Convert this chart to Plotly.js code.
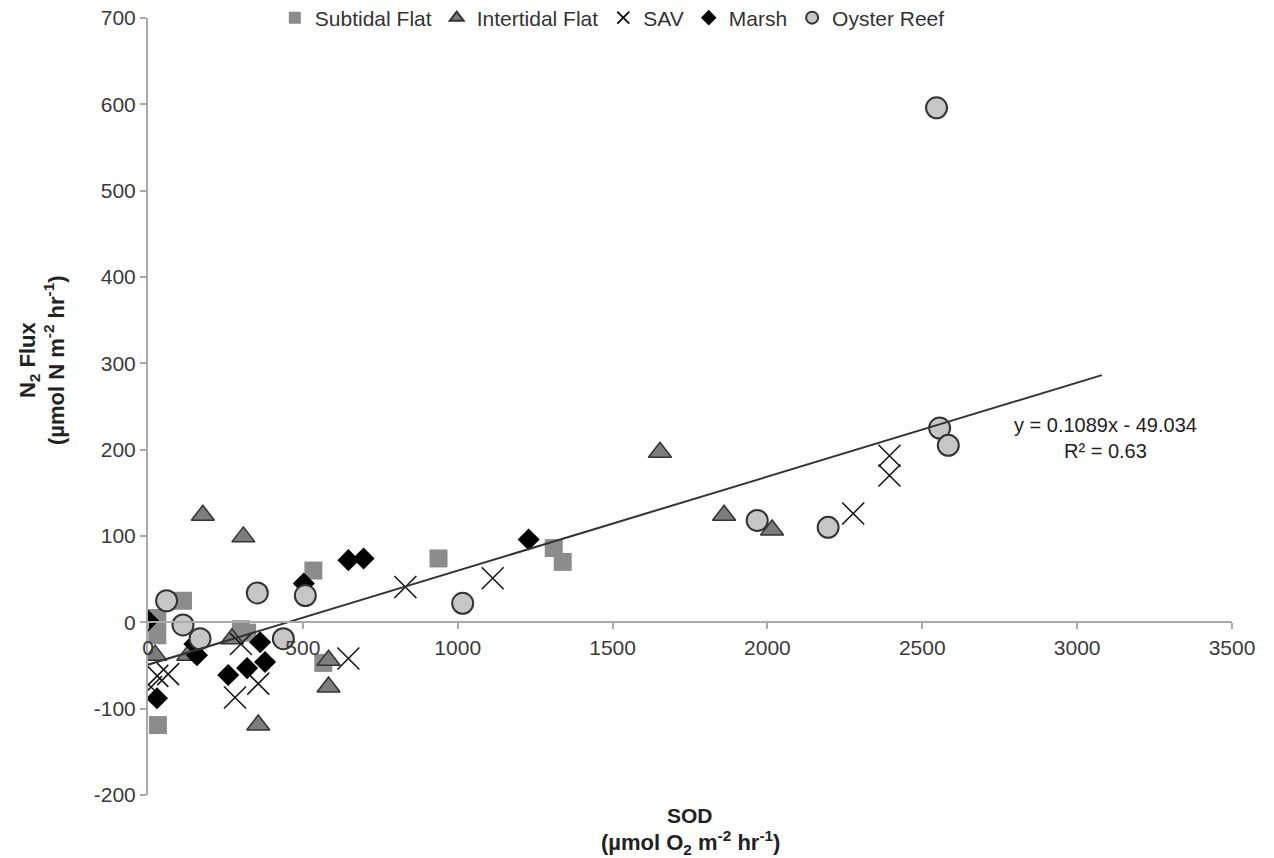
<!DOCTYPE html>
<html><head><meta charset="utf-8">
<script src="https://cdn.plot.ly/plotly-3.0.1.min.js"></script>
<style>html,body{margin:0;padding:0;background:#fff}#chart{width:1274px;height:858px}</style>
</head><body><div id="chart"></div>
<script>
const subtidalX = [30, 30, 113, 32, 300, 320, 566, 534, 938, 1310, 1339];
const subtidalY = [5, -15, 25, -119, -8, -12, -47, 60, 74, 86, 70];
const intertidalX = [23, 130, 177, 308, 271, 356, 583, 583, 1653, 1860, 2015];
const intertidalY = [-38, -38, 124, 99, -19, -119, -44, -75, 197, 124, 107];
const savX = [10, 30, 65, 281, 356, 300, 647, 831, 1113, 2277, 2394, 2394];
const savY = [-75, -62, -60, -87, -71, -25, -42, 41, 51, 126, 193, 170];
const marshX = [0, 150, 158, 29, 259, 320, 378, 362, 503, 647, 696, 1229];
const marshY = [2, -25, -38, -88, -61, -53, -46, -23, 45, 72, 74, 96];
const oysterX = [60, 113, 168, 353, 437, 508, 1016, 1967, 2196, 2556, 2584, 2546];
const oysterY = [25, -3, -19, 34, -19, 31, 22, 118, 110, 225, 205, 596];
const xTickVals = [0, 500, 1000, 1500, 2000, 2500, 3000, 3500];
const xTickText = ['0', '500', '1000', '1500', '2000', '2500', '3000', '3500'];
const yTickVals = [-200, -100, 0, 100, 200, 300, 400, 500, 600, 700];
const yTickText = ['-200', '-100', '0', '100', '200', '300', '400', '500', '600', '700'];
const trendSlope = 0.1089, trendIntercept = -49.034;
const trendX = [0, 3080];
const trendY = trendX.map(x => trendSlope * x + trendIntercept);

const FONT = "Liberation Sans, Arial, sans-serif";
const traces = [
  {type:'scatter', mode:'markers', name:'Subtidal Flat', x: subtidalX, y: subtidalY,
   marker:{symbol:'square', size:18, color:'#8c8c8c', line:{width:0}}},
  {type:'scatter', mode:'markers', name:'Intertidal Flat', x: intertidalX, y: intertidalY,
   marker:{symbol:'triangle-up', size:20, color:'#7d7d7d', line:{color:'#333', width:1.5}}},
  {type:'scatter', mode:'markers', name:'SAV', x: savX, y: savY,
   marker:{symbol:'x-thin-open', size:22, color:'#111', line:{color:'#111', width:1.5}}},
  {type:'scatter', mode:'markers', name:'Marsh', x: marshX, y: marshY,
   marker:{symbol:'diamond', size:17, color:'#000', line:{width:0}}},
  {type:'scatter', mode:'markers', name:'Oyster Reef', x: oysterX, y: oysterY,
   marker:{symbol:'circle', size:21, color:'#c6c6c6', line:{color:'#333', width:2}}},
  {type:'scatter', mode:'lines', x: trendX, y: trendY, showlegend:false, hoverinfo:'skip',
   line:{color:'#333', width:2}}
];

const layout = {
  width:1274, height:858,
  margin:{l:148, r:42, t:18, b:63, autoexpand:false},
  paper_bgcolor:'#fff', plot_bgcolor:'#fff',
  font:{family:FONT, color:'#333', size:21},
  showlegend:true,
  legend:{orientation:'h', x:0.117, y:1.0, xanchor:'left', yanchor:'middle',
    bgcolor:'rgba(0,0,0,0)', font:{size:21, color:'#333'}, itemsizing:'constant', tracegroupgap:0},
  xaxis:{range:[0,3500], tickvals:xTickVals, ticktext:xTickText, showgrid:false, zeroline:false, showline:true,
    linecolor:'#aaa', linewidth:2, ticks:'outside', ticklen:6, tickcolor:'#aaa', tickwidth:2,
    anchor:'free', position:2/9, tickfont:{size:21, color:'#3a3a3a'}},
  yaxis:{range:[-200,700], tickvals:yTickVals, ticktext:yTickText, showgrid:false, zeroline:false, showline:true,
    linecolor:'#aaa', linewidth:2, ticks:'outside', ticklen:6, tickcolor:'#aaa', tickwidth:2,
    tickfont:{size:21, color:'#3a3a3a'}},
  annotations:[
    {xref:'paper', yref:'paper', x:(690-148)/1084, y:(795-815)/777, text:'<b>SOD</b>',
     showarrow:false, font:{size:21, color:'#222'}, xanchor:'center', yanchor:'middle'},
    {xref:'paper', yref:'paper', x:(690-148)/1084, y:(795-842)/777,
     text:'<b>(µmol O<sub>2</sub> m<sup>-2</sup> hr<sup>-1</sup>)</b>',
     showarrow:false, font:{size:22, color:'#222'}, xanchor:'center', yanchor:'middle'},
    {xref:'paper', yref:'paper', x:(42-148)/1084, y:(795-360)/777,
     text:'<b>N<sub>2</sub> Flux<br>(µmol N m<sup>-2</sup> hr<sup>-1</sup>)</b>',
     showarrow:false, textangle:-90, font:{size:22, color:'#222'}, xanchor:'center', yanchor:'middle'},
    {xref:'x', yref:'y', x:3090, y:214, text:'y = 0.1089x - 49.034<br>R² = 0.63',
     showarrow:false, font:{size:20, color:'#222'}, align:'center', xanchor:'center', yanchor:'middle'}
  ]
};
Plotly.newPlot('chart', traces, layout, {displayModeBar:false, staticPlot:true});
</script></body></html>
